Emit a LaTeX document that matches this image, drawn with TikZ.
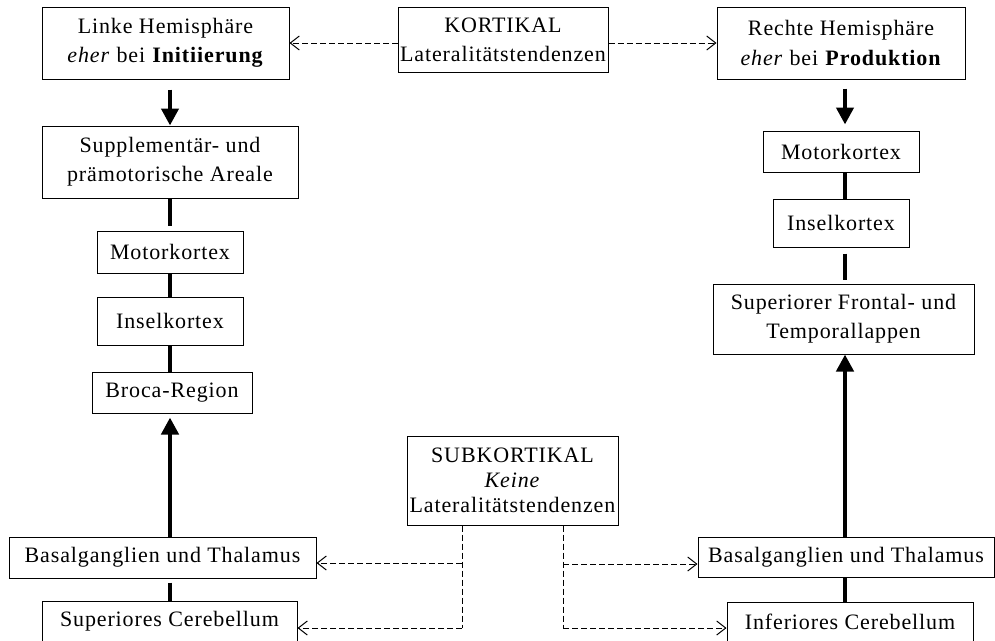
\documentclass[tikz,border=0pt]{standalone}
\usepackage{fontspec}
\setmainfont{Liberation Serif}[LetterSpace=4]
\usetikzlibrary{arrows.meta}
\begin{document}
\begin{tikzpicture}[x=1pt,y=-1pt,
  box/.style={draw, line width=1pt, inner sep=0pt, align=center,
    font=\fontsize{22}{29}\selectfont},
  conn/.style={line width=4.5pt},
  bigarrow/.style={line width=4.5pt, -{Triangle[length=17pt,width=17pt]}},
  dashlink/.style={line width=1pt, dash pattern=on 6pt off 3pt},
  dasharrow/.style={dashlink, -{Straight Barb[length=9pt,width=14pt,line width=1pt]}}]
\useasboundingbox (0,0) rectangle (995,640);
% top row
\node[box, minimum width=247pt, minimum height=72pt] (linke) at (165.5,43)
  {Linke Hemisphäre\\\emph{eher} bei \textbf{Initiierung}};
\node[box, minimum width=210pt, minimum height=65pt] (kort) at (503,39.5)
  {KORTIKAL\\Lateralitätstendenzen};
\node[box, minimum width=248pt, minimum height=72pt] (rechte) at (841,43)
  {Rechte Hemisphäre\\\emph{eher} bei \textbf{Produktion}};
% left column
\node[box, minimum width=256pt, minimum height=72pt] (suppl) at (170,162)
  {Supplementär- und\\prämotorische Areale};
\node[box, minimum width=146pt, minimum height=42pt] (motL) at (170,252) {Motorkortex};
\node[box, minimum width=146pt, minimum height=48pt] (inselL) at (170,321) {Inselkortex};
\node[box, minimum width=160pt, minimum height=41pt] (broca) at (172,392.5) {Broca-Region};
\node[box, minimum width=307pt, minimum height=41pt] (basL) at (162.5,557.5) {Basalganglien und Thalamus};
\node[box, minimum width=255pt, minimum height=40pt] (supC) at (169.5,621) {Superiores Cerebellum};
% right column
\node[box, minimum width=156pt, minimum height=41pt] (motR) at (841,151.5) {Motorkortex};
\node[box, minimum width=136pt, minimum height=48pt] (inselR) at (841,223) {Inselkortex};
\node[box, minimum width=261pt, minimum height=70pt] (supR) at (843.5,319)
  {Superiorer Frontal- und\\Temporallappen};
\node[box, minimum width=296pt, minimum height=40pt] (basR) at (846,557) {Basalganglien und Thalamus};
\node[box, minimum width=246pt, minimum height=40pt] (infC) at (850,622) {Inferiores Cerebellum};
% middle
\node[box, minimum width=211pt, minimum height=89pt, font=\fontsize{22}{25}\selectfont] (sub) at (512.5,480.5)
  {SUBKORTIKAL\\\emph{Keine}\\Lateralitätstendenzen};
% column coordinates
\coordinate (cl) at (170,0);
\coordinate (cr) at (845,0);
% left connectors
\draw[bigarrow, shorten <=10pt] (linke.south -| cl) -- (suppl.north -| cl);
\draw[conn, shorten >=5pt] (suppl.south -| cl) -- (motL.north -| cl);
\draw[conn] (motL.south -| cl) -- (inselL.north -| cl);
\draw[conn] (inselL.south -| cl) -- (broca.north -| cl);
\draw[bigarrow, shorten >=4pt] (basL.north -| cl) -- (broca.south -| cl);
\draw[conn, shorten <=4pt] (basL.south -| cl) -- (supC.north -| cl);
% right connectors
\draw[bigarrow, shorten <=9pt, shorten >=6pt] (rechte.south -| cr) -- (motR.north -| cr);
\draw[conn] (motR.south -| cr) -- (inselR.north -| cr);
\draw[conn, shorten <=6pt, shorten >=4pt] (inselR.south -| cr) -- (supR.north -| cr);
\draw[bigarrow] (basR.north -| cr) -- (supR.south -| cr);
\draw[conn] (basR.south -| cr) -- (infC.north -| cr);
% dashed top
\draw[dasharrow] (kort.west |- linke.east) -- (linke.east);
\draw[dasharrow] (kort.east |- rechte.west) -- (rechte.west);
% dashed bottom
\coordinate (a1) at (462,563);
\coordinate (a2) at (462,628);
\coordinate (b1) at (563,564);
\coordinate (b2) at (563,628);
\draw[dashlink] (sub.south -| a1) -- (a2);
\draw[dashlink] (sub.south -| b1) -- (b2);
\draw[dasharrow] (a1) -- (a1 -| basL.east);
\draw[dasharrow] (a2) -- (a2 -| supC.east);
\draw[dasharrow] (b1) -- (b1 -| basR.west);
\draw[dasharrow] (b2) -- (b2 -| infC.west);
\end{tikzpicture}
\end{document}
